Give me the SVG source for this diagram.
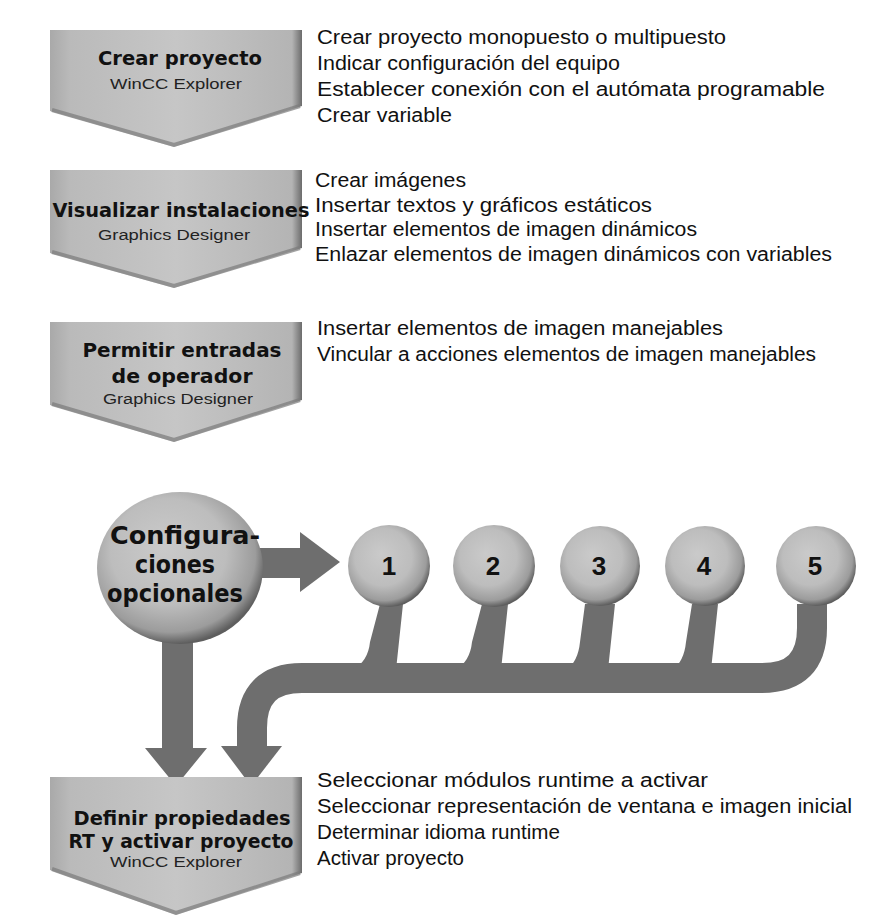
<svg xmlns="http://www.w3.org/2000/svg" width="876" height="916" viewBox="0 0 876 916">
<defs>
<linearGradient id="chev" x1="0" y1="0" x2="1" y2="0">
<stop offset="0" stop-color="#a9a9a9"/>
<stop offset="0.08" stop-color="#bababa"/>
<stop offset="0.5" stop-color="#c6c6c6"/>
<stop offset="0.96" stop-color="#b4b4b4"/>
<stop offset="1" stop-color="#6c6c6c"/>
</linearGradient>
<radialGradient id="ball" cx="0.45" cy="0.42" r="0.58" fx="0.4" fy="0.35">
<stop offset="0" stop-color="#cacaca"/>
<stop offset="0.6" stop-color="#bdbdbd"/>
<stop offset="0.88" stop-color="#9c9c9c"/>
<stop offset="1" stop-color="#5e5e5e"/>
</radialGradient>
<style>
.chev{fill:url(#chev);}
.vedge{fill:none;stroke:#7a7a7a;stroke-width:4;stroke-opacity:0.7;}
.title{font-family:"DejaVu Sans",sans-serif;font-weight:bold;font-size:19px;fill:#111;text-anchor:middle;}
.sub{font-family:"Liberation Sans",Arial,sans-serif;font-size:14px;fill:#222;text-anchor:middle;}
.body{font-family:"Liberation Sans",Arial,sans-serif;font-size:20px;fill:#111;}
.ball{fill:url(#ball);}
.num{font-family:"Liberation Sans",Arial,sans-serif;font-weight:bold;font-size:26px;fill:#111;text-anchor:middle;}
.big{font-family:"DejaVu Sans",sans-serif;font-weight:bold;font-size:24.5px;fill:#111;text-anchor:middle;}
.conn{fill:#6e6e6e;}
.connS{fill:none;stroke:#6e6e6e;stroke-width:30;}
</style>
</defs>
<rect width="876" height="916" fill="#ffffff"/>

<g id="connectors">
<path class="conn" d="M255 548 H300 V532 L340 562 L300 592 V578 H255 Z"/>
<path class="conn" d="M162 640 H193 V748 H207 L176 786 L145 748 H162 Z"/>
<path class="connS" d="M812 604 V628 Q812 678 762 678 H302 Q252 678 252 728 V750"/>
<path class="conn" d="M221 746 H282 L251 786 Z"/>
<path class="conn" d="M380 604 H403 L396 670 H352 Q368 662 370 642 Z"/>
<path class="conn" d="M482 604 H508 L501 670 H455 Q470 662 472 642 Z"/>
<path class="conn" d="M585 604 H615 L608 670 H566 Q578 662 580 642 Z"/>
<path class="conn" d="M692 604 H718 L711 670 H672 Q684 662 686 642 Z"/>
</g>

<g id="node-crear">
<polygon class="chev" points="50,30 302,30 302,106 174,147 50,111"/>
<polyline class="vedge" points="52,110 174,145 300,106"/>
<text class="title" x="180" y="65" textLength="164" lengthAdjust="spacingAndGlyphs">Crear proyecto</text>
<text class="sub" x="176" y="89" textLength="132" lengthAdjust="spacingAndGlyphs">WinCC Explorer</text>
</g>
<g id="text-crear">
<text class="body" x="317" y="44" textLength="409" lengthAdjust="spacingAndGlyphs">Crear proyecto monopuesto o multipuesto</text>
<text class="body" x="317" y="70" textLength="303" lengthAdjust="spacingAndGlyphs">Indicar configuración del equipo</text>
<text class="body" x="317" y="96" textLength="508" lengthAdjust="spacingAndGlyphs">Establecer conexión con el autómata programable</text>
<text class="body" x="317" y="122" textLength="135" lengthAdjust="spacingAndGlyphs">Crear variable</text>
</g>

<g id="node-visualizar">
<polygon class="chev" points="50,170 302,170 302,248 174,288 50,253"/>
<polyline class="vedge" points="52,252 174,286 300,248"/>
<text class="title" x="181" y="217" textLength="257" lengthAdjust="spacingAndGlyphs">Visualizar instalaciones</text>
<text class="sub" x="174" y="240" textLength="152" lengthAdjust="spacingAndGlyphs">Graphics Designer</text>
</g>
<g id="text-visualizar">
<text class="body" x="315" y="187" textLength="151" lengthAdjust="spacingAndGlyphs">Crear imágenes</text>
<text class="body" x="315" y="212" textLength="337" lengthAdjust="spacingAndGlyphs">Insertar textos y gráficos estáticos</text>
<text class="body" x="315" y="236" textLength="382" lengthAdjust="spacingAndGlyphs">Insertar elementos de imagen dinámicos</text>
<text class="body" x="315" y="261" textLength="517" lengthAdjust="spacingAndGlyphs">Enlazar elementos de imagen dinámicos con variables</text>
</g>

<g id="node-permitir">
<polygon class="chev" points="50,322 302,322 302,400 174,442 50,405"/>
<polyline class="vedge" points="52,404 174,440 300,400"/>
<text class="title" x="182" y="357" textLength="199" lengthAdjust="spacingAndGlyphs">Permitir entradas</text>
<text class="title" x="182" y="383" textLength="141" lengthAdjust="spacingAndGlyphs">de operador</text>
<text class="sub" x="178" y="404" textLength="150" lengthAdjust="spacingAndGlyphs">Graphics Designer</text>
</g>
<g id="text-permitir">
<text class="body" x="317" y="335" textLength="406" lengthAdjust="spacingAndGlyphs">Insertar elementos de imagen manejables</text>
<text class="body" x="317" y="361" textLength="499" lengthAdjust="spacingAndGlyphs">Vincular a acciones elementos de imagen manejables</text>
</g>

<g id="node-config">
<ellipse class="ball" cx="180" cy="568" rx="83" ry="76"/>
<text class="big" x="185" y="544" textLength="150" lengthAdjust="spacingAndGlyphs">Configura-</text>
<text class="big" x="175" y="573" textLength="80" lengthAdjust="spacingAndGlyphs">ciones</text>
<text class="big" x="175" y="602" textLength="136" lengthAdjust="spacingAndGlyphs">opcionales</text>
</g>

<g id="node-1"><circle class="ball" cx="389" cy="566" r="41"/><text class="num" x="389" y="575">1</text></g>
<g id="node-2"><circle class="ball" cx="494" cy="566" r="41"/><text class="num" x="493" y="575">2</text></g>
<g id="node-3"><circle class="ball" cx="600" cy="566" r="40"/><text class="num" x="599" y="575">3</text></g>
<g id="node-4"><circle class="ball" cx="705" cy="566" r="40"/><text class="num" x="704" y="575">4</text></g>
<g id="node-5"><circle class="ball" cx="816" cy="566" r="40"/><text class="num" x="815" y="575">5</text></g>

<g id="node-definir">
<polygon class="chev" points="50,777 302,777 302,873 176,915 50,870"/>
<polyline class="vedge" points="52,869 176,913 300,873"/>
<text class="title" x="182" y="825" textLength="217" lengthAdjust="spacingAndGlyphs">Definir propiedades</text>
<text class="title" x="181" y="848" textLength="225" lengthAdjust="spacingAndGlyphs">RT y activar proyecto</text>
<text class="sub" x="176" y="867" textLength="132" lengthAdjust="spacingAndGlyphs">WinCC Explorer</text>
</g>
<g id="text-definir">
<text class="body" x="317" y="787" textLength="391" lengthAdjust="spacingAndGlyphs">Seleccionar módulos runtime a activar</text>
<text class="body" x="317" y="813" textLength="535" lengthAdjust="spacingAndGlyphs">Seleccionar representación de ventana e imagen inicial</text>
<text class="body" x="317" y="839" textLength="243" lengthAdjust="spacingAndGlyphs">Determinar idioma runtime</text>
<text class="body" x="317" y="865" textLength="147" lengthAdjust="spacingAndGlyphs">Activar proyecto</text>
</g>
</svg>
